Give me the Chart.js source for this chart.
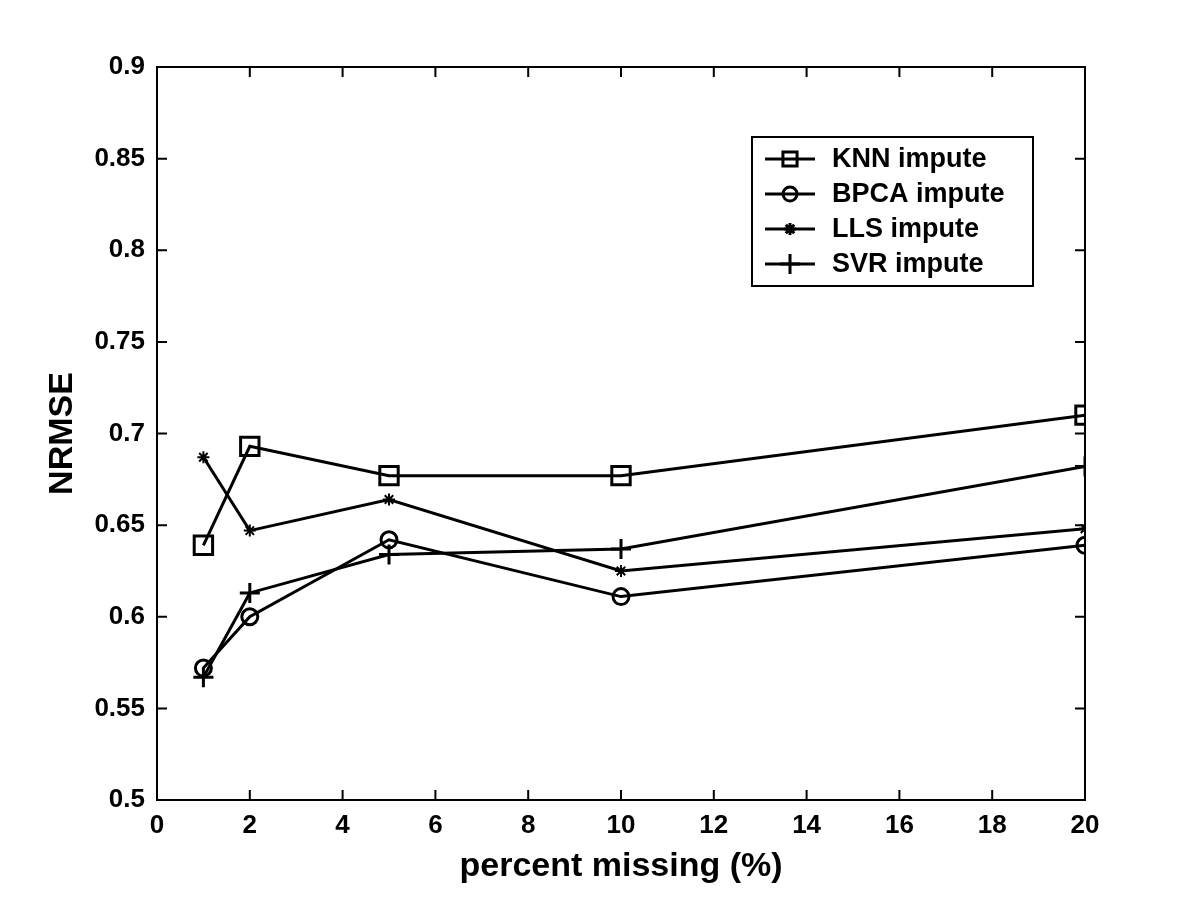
<!DOCTYPE html>
<html>
<head>
<meta charset="utf-8">
<script src="https://cdn.jsdelivr.net/npm/chart.js@4"></script>
<style>
  html, body { margin: 0; padding: 0; background: #fff; }
  #wrap { width: 1200px; height: 900px; }
</style>
</head>
<body>
<div id="wrap"><canvas id="nrmseChart" width="1200" height="900"></canvas></div>
<script>
// ==== Data ====
const percentMissing = [1, 2, 5, 10, 20];
const knnValues  = [0.639, 0.693, 0.677, 0.677, 0.710];
const bpcaValues = [0.572, 0.600, 0.642, 0.611, 0.639];
const llsValues  = [0.687, 0.647, 0.664, 0.625, 0.648];
const svrValues  = [0.567, 0.613, 0.634, 0.637, 0.682];
const seriesNames = ["KNN impute", "BPCA impute", "LLS impute", "SVR impute"];
const xTicks = [0, 2, 4, 6, 8, 10, 12, 14, 16, 18, 20];
const yTicks = [0.5, 0.55, 0.6, 0.65, 0.7, 0.75, 0.8, 0.85, 0.9];

const FONT = "'Liberation Sans', Arial, sans-serif";

function toPoints(values) {
  return percentMissing.map((x, i) => ({ x: x, y: values[i] }));
}

function lineSet(label, values, style, radius, legendRadius) {
  return {
    label: label,
    data: toPoints(values),
    borderColor: "#000",
    backgroundColor: "rgba(0,0,0,0)",
    borderWidth: 3,
    pointStyle: style,
    pointRadius: radius,
    legendRadius: legendRadius,
    pointBorderColor: "#000",
    pointBackgroundColor: "rgba(0,0,0,0)",
    pointBorderWidth: style === "star" ? 2 : 3,
    tension: 0
  };
}

// ==== Box, inward ticks and legend (MATLAB look) ====
const matlabFrame = {
  id: "matlabFrame",
  afterDraw(chart) {
    const c = chart.ctx;
    const a = chart.chartArea;
    const xs = chart.scales.x, ys = chart.scales.y;
    const tl = 10;
    c.save();
    c.strokeStyle = "#000";
    c.lineWidth = 2;
    c.strokeRect(a.left, a.top, a.right - a.left, a.bottom - a.top);
    c.beginPath();
    xTicks.forEach(v => {
      const px = xs.getPixelForValue(v);
      c.moveTo(px, a.bottom); c.lineTo(px, a.bottom - tl);
      c.moveTo(px, a.top); c.lineTo(px, a.top + tl);
    });
    yTicks.forEach(v => {
      const py = ys.getPixelForValue(v);
      c.moveTo(a.left, py); c.lineTo(a.left + tl, py);
      c.moveTo(a.right, py); c.lineTo(a.right - tl, py);
    });
    c.stroke();

    // legend box
    const bx = 752, by = 137, bw = 281, bh = 149;
    c.fillStyle = "#fff";
    c.fillRect(bx, by, bw, bh);
    c.lineWidth = 2;
    c.strokeRect(bx, by, bw, bh);
    c.font = "bold 27px " + FONT;
    c.textBaseline = "middle";
    c.textAlign = "left";
    chart.data.datasets.forEach((ds, i) => {
      const y = by + 22 + i * 35;
      c.lineWidth = 3;
      c.beginPath();
      c.moveTo(765, y); c.lineTo(815, y);
      c.stroke();
      c.fillStyle = "rgba(0,0,0,0)";
      Chart.helpers.drawPoint(c, {
        pointStyle: ds.pointStyle,
        radius: ds.legendRadius,
        borderWidth: ds.pointBorderWidth
      }, 790, y);
      c.fillStyle = "#000";
      c.fillText(ds.label, 832, y + 1);
    });
    c.restore();
  }
};

// ==== Chart Setup ====
const ctx = document.getElementById("nrmseChart").getContext("2d");
const chart = new Chart(ctx, {
  type: "line",
  data: {
    datasets: [
      lineSet(seriesNames[0], knnValues, "rect", 13, 10),
      lineSet(seriesNames[1], bpcaValues, "circle", 8, 7),
      lineSet(seriesNames[2], llsValues, "star", 6, 6),
      lineSet(seriesNames[3], svrValues, "cross", 10, 10)
    ]
  },
  options: {
    responsive: false,
    animation: false,
    devicePixelRatio: 1,
    layout: { padding: { left: 42, right: 115, top: 67, bottom: 0 } },
    plugins: { legend: { display: false }, tooltip: { enabled: false } },
    scales: {
      x: {
        type: "linear",
        min: 0, max: 20,
        afterBuildTicks: s => { s.ticks = xTicks.map(v => ({ value: v })); },
        afterFit: s => { s.height = 100; },
        grid: { display: false, drawTicks: false },
        border: { display: false },
        ticks: {
          color: "#000",
          padding: 10,
          font: { family: FONT, size: 26, weight: "bold" },
          maxRotation: 0
        },
        title: {
          display: true,
          text: "percent missing (%)",
          color: "#000",
          padding: { top: 0, bottom: 13 },
          font: { family: FONT, size: 34, weight: "bold" }
        }
      },
      y: {
        type: "linear",
        min: 0.5, max: 0.9,
        afterBuildTicks: s => { s.ticks = yTicks.map(v => ({ value: v })); },
        afterFit: s => { s.width = 115; },
        grid: { display: false, drawTicks: false },
        border: { display: false },
        ticks: {
          color: "#000",
          padding: 12,
          font: { family: FONT, size: 26, weight: "bold" },
          callback: v => String(Math.round(v * 100) / 100)
        },
        title: {
          display: true,
          text: "NRMSE",
          color: "#000",
          padding: 0,
          font: { family: FONT, size: 34, weight: "bold" }
        }
      }
    }
  },
  plugins: [matlabFrame]
});
</script>
</body>
</html>
